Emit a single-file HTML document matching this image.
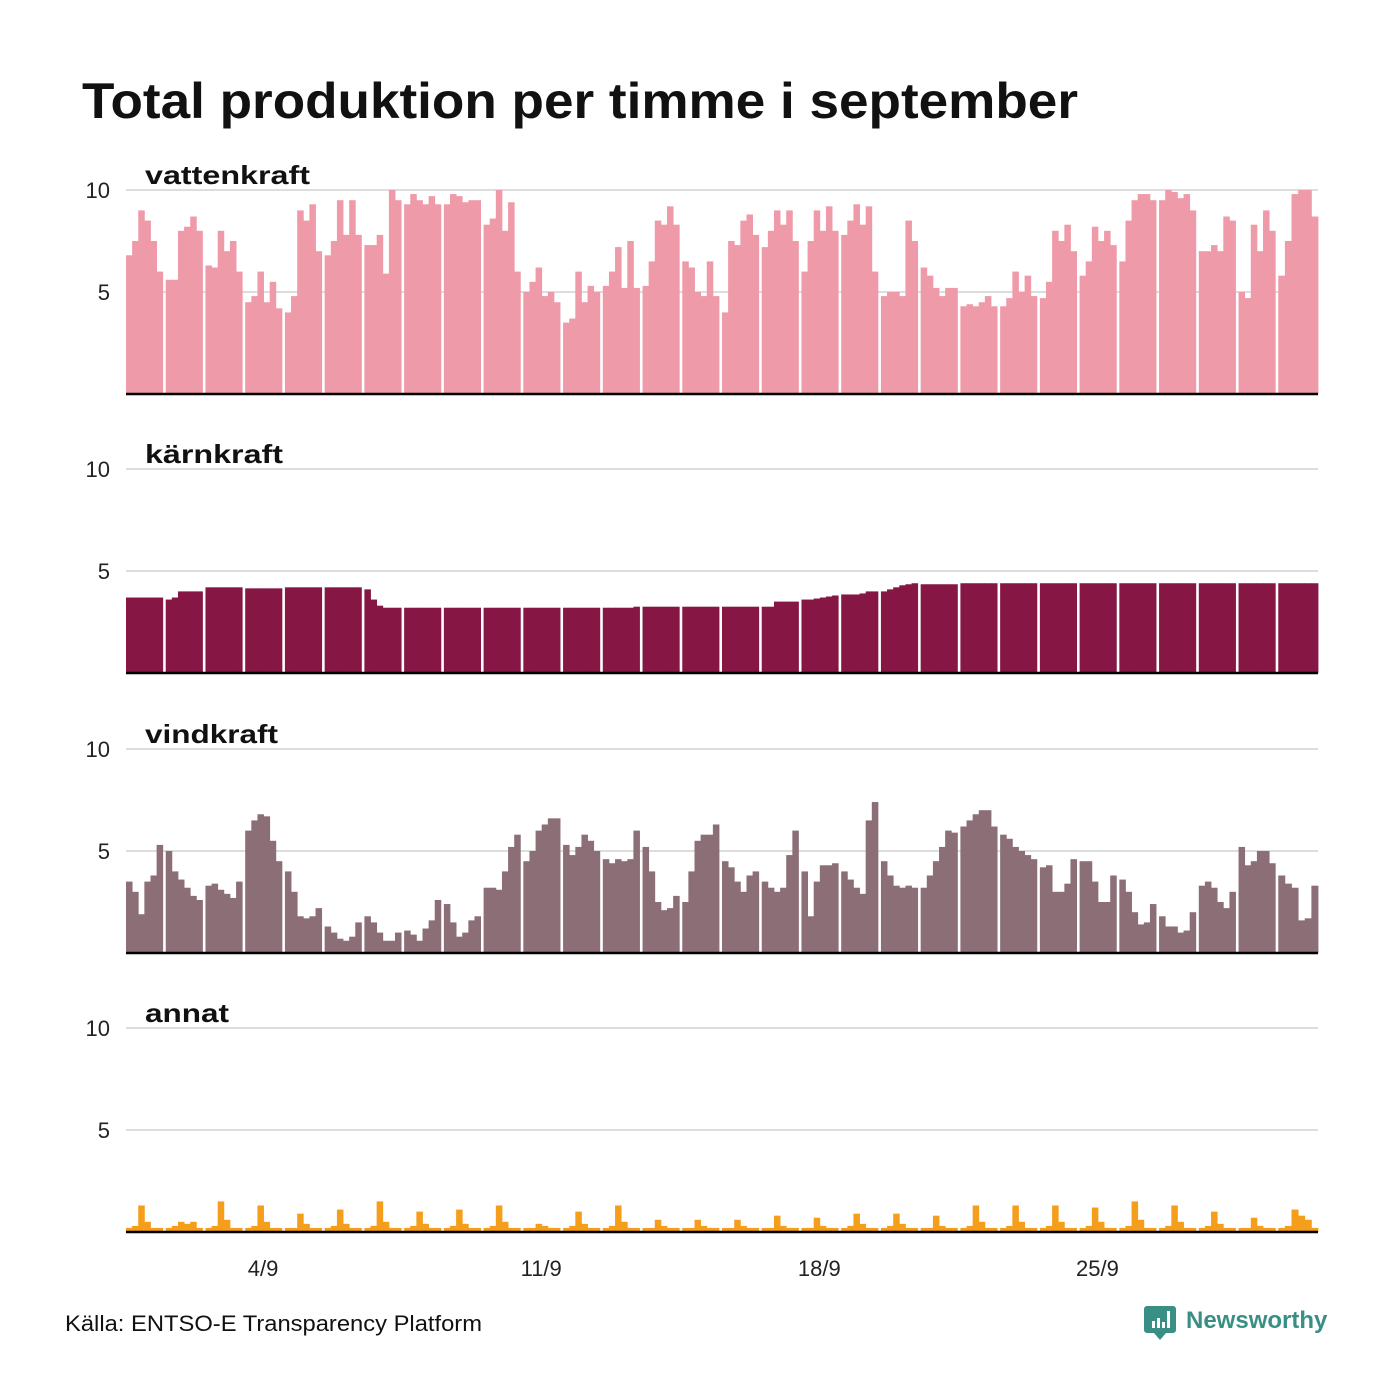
<!DOCTYPE html>
<html><head><meta charset="utf-8"><style>
body{margin:0;background:#fff;}
svg{display:block;font-family:"Liberation Sans","DejaVu Sans",sans-serif;}
</style></head><body>
<svg id="chart" width="1400" height="1400" viewBox="0 0 1400 1400">
<rect width="1400" height="1400" fill="#fff"/>
<text x="82" y="118" font-size="50" font-weight="bold" fill="#111" textLength="996" lengthAdjust="spacingAndGlyphs">Total produktion per timme i september</text>
<g id="panels"></g>
<text x="65" y="1331" font-size="22" fill="#111" textLength="417" lengthAdjust="spacingAndGlyphs">Källa: ENTSO-E Transparency Platform</text>
<g>
<path d="M1147 1306 h26 a3 3 0 0 1 3 3 v21 a3 3 0 0 1 -3 3 h-7 l-6 7 l-6 -7 h-7 a3 3 0 0 1 -3 -3 v-21 a3 3 0 0 1 3 -3z" fill="#3a8f85"/>
<rect x="1152" y="1321" width="3" height="7" fill="#fff"/><rect x="1157" y="1318" width="3" height="10" fill="#fff"/><rect x="1162" y="1322" width="3" height="6" fill="#fff"/><rect x="1167" y="1311" width="3" height="17" fill="#fff"/>
<text x="1186" y="1328" font-size="24" font-weight="bold" fill="#3a8f85">Newsworthy</text>
</g>
</svg>
<script>
const vatten=[6.8,7.5,9.0,8.5,7.5,6.0, 5.6,5.6,8.0,8.2,8.7,8.0, 6.3,6.2,8.0,7.0,7.5,6.0, 4.5,4.8,6.0,4.5,5.5,4.2, 4.0,4.8,9.0,8.5,9.3,7.0, 6.8,7.5,9.5,7.8,9.5,7.8, 7.3,7.3,7.8,5.9,10.0,9.5, 9.3,9.8,9.5,9.3,9.7,9.3, 9.3,9.8,9.7,9.4,9.5,9.5, 8.3,8.6,10.0,8.0,9.4,6.0, 5.0,5.5,6.2,4.8,5.0,4.5, 3.5,3.7,6.0,4.5,5.3,5.0, 5.3,6.0,7.2,5.2,7.5,5.2, 5.3,6.5,8.5,8.3,9.2,8.3, 6.5,6.2,5.0,4.8,6.5,4.8, 4.0,7.5,7.3,8.5,8.8,7.8, 7.2,8.0,9.0,8.3,9.0,7.5, 6.0,7.5,9.0,8.0,9.2,8.0, 7.8,8.5,9.3,8.3,9.2,6.0, 4.8,5.0,5.0,4.8,8.5,7.5, 6.2,5.8,5.2,4.8,5.2,5.2, 4.3,4.4,4.3,4.5,4.8,4.3, 4.3,4.7,6.0,5.0,5.8,4.8, 4.7,5.5,8.0,7.5,8.3,7.0, 5.8,6.5,8.2,7.5,8.0,7.3, 6.5,8.5,9.5,9.8,9.8,9.5, 9.5,10.0,9.9,9.6,9.8,9.0, 7.0,7.0,7.3,7.0,8.7,8.5, 5.0,4.7,8.3,7.0,9.0,8.0, 5.8,7.5,9.8,10.0,10.0,8.7];
const karn=[3.7,3.7,3.7,3.7,3.7,3.7, 3.6,3.7,4.0,4.0,4.0,4.0, 4.2,4.2,4.2,4.2,4.2,4.2, 4.15,4.15,4.15,4.15,4.15,4.15, 4.2,4.2,4.2,4.2,4.2,4.2, 4.2,4.2,4.2,4.2,4.2,4.2, 4.1,3.6,3.3,3.2,3.2,3.2, 3.2,3.2,3.2,3.2,3.2,3.2, 3.2,3.2,3.2,3.2,3.2,3.2, 3.2,3.2,3.2,3.2,3.2,3.2, 3.2,3.2,3.2,3.2,3.2,3.2, 3.2,3.2,3.2,3.2,3.2,3.2, 3.2,3.2,3.2,3.2,3.2,3.25, 3.25,3.25,3.25,3.25,3.25,3.25, 3.25,3.25,3.25,3.25,3.25,3.25, 3.25,3.25,3.25,3.25,3.25,3.25, 3.25,3.25,3.5,3.5,3.5,3.5, 3.6,3.6,3.65,3.7,3.75,3.8, 3.85,3.85,3.85,3.9,4.0,4.0, 4.0,4.1,4.2,4.3,4.35,4.4, 4.35,4.35,4.35,4.35,4.35,4.35, 4.4,4.4,4.4,4.4,4.4,4.4, 4.4,4.4,4.4,4.4,4.4,4.4, 4.4,4.4,4.4,4.4,4.4,4.4, 4.4,4.4,4.4,4.4,4.4,4.4, 4.4,4.4,4.4,4.4,4.4,4.4, 4.4,4.4,4.4,4.4,4.4,4.4, 4.4,4.4,4.4,4.4,4.4,4.4, 4.4,4.4,4.4,4.4,4.4,4.4, 4.4,4.4,4.4,4.4,4.4,4.4];
const vind=[3.5,3.0,1.9,3.5,3.8,5.3, 5.0,4.0,3.6,3.2,2.8,2.6, 3.3,3.4,3.1,2.9,2.7,3.5, 6.0,6.5,6.8,6.7,5.5,4.5, 4.0,3.0,1.8,1.7,1.8,2.2, 1.3,1.0,0.7,0.6,0.8,1.5, 1.8,1.5,1.0,0.6,0.6,1.0, 1.1,0.9,0.6,1.2,1.6,2.6, 2.4,1.5,0.8,1.0,1.6,1.8, 3.2,3.2,3.1,4.0,5.2,5.8, 4.5,5.0,6.0,6.3,6.6,6.6, 5.3,4.8,5.2,5.8,5.5,5.0, 4.6,4.4,4.6,4.5,4.6,6.0, 5.2,4.0,2.5,2.1,2.2,2.8, 2.5,4.0,5.5,5.8,5.8,6.3, 4.5,4.2,3.5,3.0,3.8,4.0, 3.5,3.2,3.0,3.2,4.8,6.0, 4.0,1.8,3.5,4.3,4.3,4.4, 4.0,3.6,3.2,2.9,6.5,7.4, 4.5,3.8,3.3,3.2,3.3,3.2, 3.2,3.8,4.5,5.2,6.0,5.9, 6.2,6.5,6.8,7.0,7.0,6.2, 5.8,5.6,5.2,5.0,4.8,4.6, 4.2,4.3,3.0,3.0,3.4,4.6, 4.5,4.5,3.5,2.5,2.5,3.8, 3.6,3.0,2.0,1.4,1.5,2.4, 1.8,1.3,1.3,1.0,1.1,2.0, 3.3,3.5,3.2,2.5,2.2,3.0, 5.2,4.3,4.5,5.0,5.0,4.4, 3.8,3.4,3.2,1.6,1.7,3.3];
const annat=[0.2,0.3,1.3,0.5,0.2,0.2, 0.2,0.3,0.5,0.4,0.5,0.2, 0.2,0.3,1.5,0.6,0.2,0.2, 0.2,0.3,1.3,0.5,0.2,0.2, 0.2,0.2,0.9,0.4,0.2,0.2, 0.2,0.3,1.1,0.4,0.2,0.2, 0.2,0.3,1.5,0.5,0.2,0.2, 0.2,0.3,1.0,0.4,0.2,0.2, 0.2,0.3,1.1,0.4,0.2,0.2, 0.2,0.3,1.3,0.5,0.2,0.2, 0.2,0.2,0.4,0.3,0.2,0.2, 0.2,0.3,1.0,0.4,0.2,0.2, 0.2,0.3,1.3,0.5,0.2,0.2, 0.2,0.2,0.6,0.3,0.2,0.2, 0.2,0.2,0.6,0.3,0.2,0.2, 0.2,0.2,0.6,0.3,0.2,0.2, 0.2,0.2,0.8,0.3,0.2,0.2, 0.2,0.2,0.7,0.3,0.2,0.2, 0.2,0.3,0.9,0.4,0.2,0.2, 0.2,0.3,0.9,0.4,0.2,0.2, 0.2,0.2,0.8,0.3,0.2,0.2, 0.2,0.3,1.3,0.5,0.2,0.2, 0.2,0.3,1.3,0.5,0.2,0.2, 0.2,0.3,1.3,0.5,0.2,0.2, 0.2,0.3,1.2,0.5,0.2,0.2, 0.2,0.3,1.5,0.6,0.2,0.2, 0.2,0.3,1.3,0.5,0.2,0.2, 0.2,0.3,1.0,0.4,0.2,0.2, 0.2,0.2,0.7,0.3,0.2,0.2, 0.2,0.3,1.1,0.8,0.6,0.2];
const seriesNames=["vattenkraft","kärnkraft","vindkraft","annat"];
const seriesColors=["#ef9aa8","#861745","#8c6e77","#f59e1c"];
const yTicks=[5,10];
const xTickLabels=["4/9","11/9","18/9","25/9"];
const xTickDays=[4,11,18,25];

const NS="http://www.w3.org/2000/svg";
const g=document.getElementById('panels');
const X0=126,X1=1318,days=30,dayW=(X1-X0)/days,bins=6;
const baselines=[394,673,953,1232],unit=20.4;
const titleWidths=[165,138,133,84];
function dayX(d){return X0+d*dayW;}
function yS(p,v){return baselines[p]-v*unit;}
function mk(tag,attrs){const e=document.createElementNS(NS,tag);for(const k in attrs)e.setAttribute(k,attrs[k]);return e;}
const all=[vatten,karn,vind,annat];
all.forEach((data,p)=>{
  const pg=mk('g',{});
  
  
  g.appendChild(pg);
  yTicks.forEach(t=>{
    const l=mk('line',{x1:X0,x2:X1,y1:yS(p,t),y2:yS(p,t),stroke:'#dddddd','stroke-width':2});
    
    
    pg.appendChild(l);
    const tx=mk('text',{x:110,y:yS(p,t)+8,'text-anchor':'end','font-size':22,fill:'#222'});
    tx.textContent=t;
    
    
    pg.appendChild(tx);
  });
  const ti=mk('text',{x:145,y:yS(p,10)-6,'font-size':26,'font-weight':'bold',fill:'#111',textLength:titleWidths[p],lengthAdjust:'spacingAndGlyphs'});
  ti.textContent=seriesNames[p];
  
  
  pg.appendChild(ti);
  data.forEach((v,i)=>{
    const d=Math.floor(i/bins),b=i%bins;
    const end=d<days-1?dayX(d+1)-3:X1;
    const bw=(end-dayX(d))/bins;
    const r=mk('rect',{x:dayX(d)+b*bw,y:yS(p,v),width:bw+0.4,height:v*unit,fill:seriesColors[p]});
    
    
    pg.appendChild(r);
  });
  const ax=mk('line',{x1:X0,x2:X1,y1:baselines[p],y2:baselines[p],stroke:'#000','stroke-width':2.5});
  
  
  pg.appendChild(ax);
});
xTickLabels.forEach((lab,i)=>{
  const tx=mk('text',{x:dayX(xTickDays[i]-1)+dayW/2-2,y:1276,'text-anchor':'middle','font-size':22,fill:'#222'});
  tx.textContent=lab;
  
  
  g.appendChild(tx);
});
</script>
</body></html>
